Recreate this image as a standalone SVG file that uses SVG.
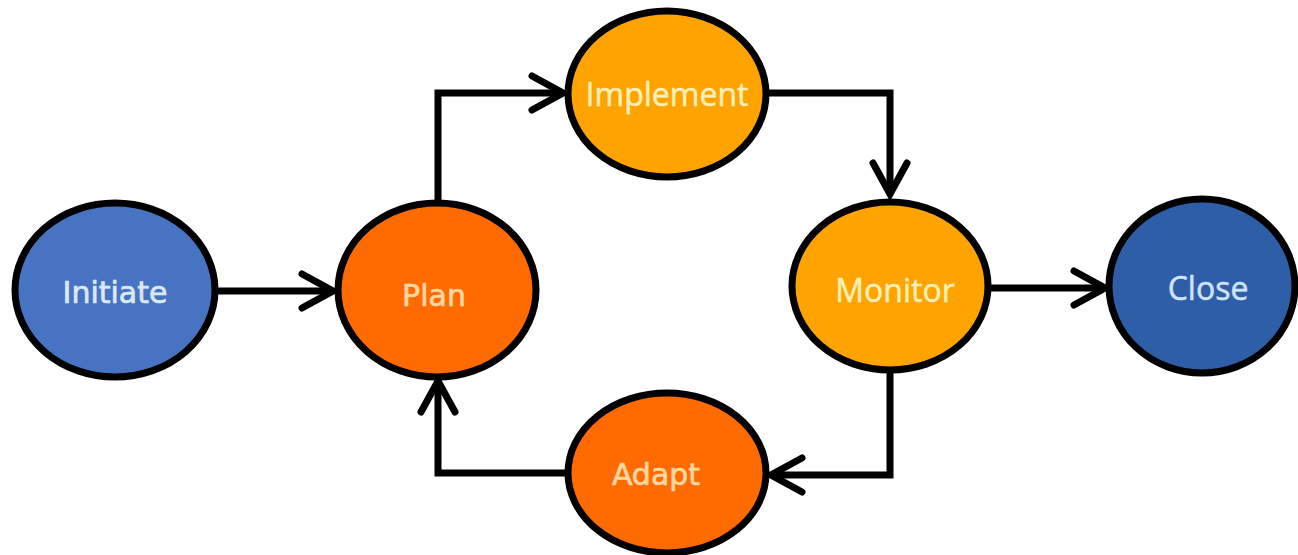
<svg xmlns="http://www.w3.org/2000/svg" width="1298" height="555" viewBox="0 0 1298 555">
<style>
.node{stroke:#000;stroke-width:7}
.c{fill:none;stroke:#000;stroke-width:7}
.t1{font-family:"DejaVu Sans",sans-serif;font-size:30px;text-anchor:middle;stroke-width:0.7}
.t2{font-family:"Open Sans",sans-serif;font-size:32px;text-anchor:middle;stroke-width:0.5}
</style>
<defs>
<marker id="arr" markerUnits="userSpaceOnUse" markerWidth="44" markerHeight="44" viewBox="0 0 44 44" refX="38" refY="22" orient="auto">
<path d="M7,5 L38,22 L7,39" fill="none" stroke="#000" stroke-width="7" stroke-linecap="round" stroke-linejoin="miter"/>
</marker>
</defs>
<rect width="1298" height="555" fill="#fff"/>
<g id="connectors">
<path class="c" d="M216,291 L333,291" marker-end="url(#arr)"/>
<path class="c" d="M438,201 L438,93 L563,93" marker-end="url(#arr)"/>
<path class="c" d="M768,93 L890,93 L890,194" marker-end="url(#arr)"/>
<path class="c" d="M988,288 L1105,288" marker-end="url(#arr)"/>
<path class="c" d="M890,370 L890,475 L771,475" marker-end="url(#arr)"/>
<path class="c" d="M567,473 L438,473 L438,381" marker-end="url(#arr)"/>
</g>
<g id="initiate">
<ellipse class="node" cx="115" cy="290" rx="100" ry="87" fill="#4774c2"/>
<text class="t1" x="115" y="303" fill="#dce8f7" stroke="#dce8f7">Initiate</text>
</g>
<g id="plan">
<ellipse class="node" cx="437" cy="290" rx="99" ry="87" fill="#ff6b00"/>
<text class="t1" x="434" y="306" fill="#ffd7a0" stroke="#ffd7a0">Plan</text>
</g>
<g id="implement">
<ellipse class="node" cx="667" cy="94" rx="99" ry="83" fill="#ffa300"/>
<text class="t2" x="667" y="106" fill="#fff0b8" stroke="#fff0b8">Implement</text>
</g>
<g id="monitor">
<ellipse class="node" cx="890" cy="286" rx="98" ry="84" fill="#ffa300"/>
<text class="t2" x="895" y="302" fill="#fff0b8" stroke="#fff0b8">Monitor</text>
</g>
<g id="close">
<ellipse class="node" cx="1202" cy="286" rx="93" ry="87" fill="#2f5ea8"/>
<text class="t2" x="1208" y="300" fill="#cfe3f7" stroke="#cfe3f7">Close</text>
</g>
<g id="adapt">
<ellipse class="node" cx="667" cy="473" rx="99" ry="80" fill="#ff6b00"/>
<text class="t1" x="656" y="485" fill="#ffd7a0" stroke="#ffd7a0">Adapt</text>
</g>
</svg>
